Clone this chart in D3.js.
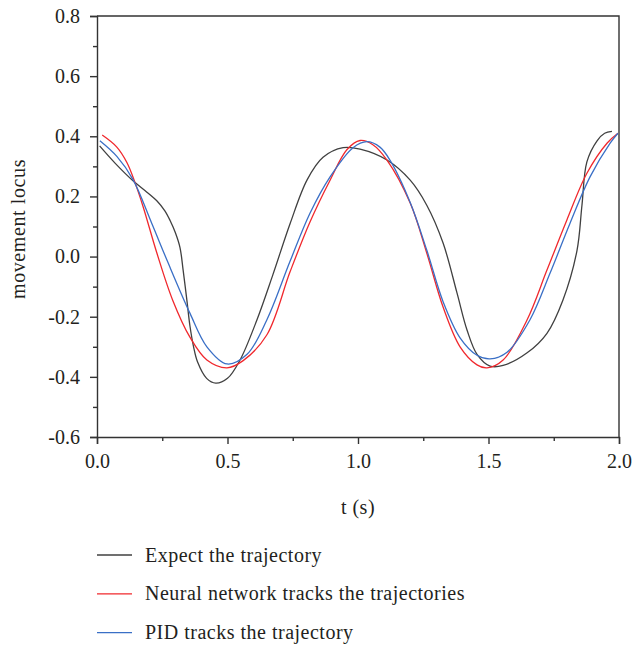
<!DOCTYPE html>
<html>
<head>
<meta charset="utf-8">
<script src="https://cdn.jsdelivr.net/npm/d3@7"></script>
<style>
  body { margin: 0; background: #fff; }
  svg text { font-family: "Liberation Serif", "DejaVu Serif", serif; fill: #231f20; }
</style>
</head>
<body>
<svg width="632" height="645"></svg>
<script>
// Series: time (s) and movement locus
const expectT = [0.01, 0.07, 0.138, 0.19, 0.23, 0.26, 0.28, 0.30, 0.318, 0.33, 0.345, 0.356, 0.37, 0.385, 0.42, 0.455, 0.50, 0.548, 0.613, 0.674, 0.74, 0.805, 0.866, 0.943, 1.008, 1.111, 1.2, 1.264, 1.326, 1.379, 1.418, 1.456, 1.506, 1.556, 1.648, 1.724, 1.785, 1.839, 1.858, 1.877, 1.916, 1.945, 1.973];
const expectV = [0.368, 0.31, 0.252, 0.215, 0.185, 0.152, 0.12, 0.08, 0.03, -0.045, -0.15, -0.23, -0.30, -0.35, -0.405, -0.421, -0.405, -0.344, -0.21, -0.06, 0.11, 0.255, 0.33, 0.362, 0.357, 0.321, 0.254, 0.17, 0.045, -0.12, -0.245, -0.325, -0.364, -0.362, -0.32, -0.255, -0.145, 0.02, 0.17, 0.315, 0.385, 0.41, 0.416];

const neuralT = [0.02, 0.076, 0.115, 0.146, 0.177, 0.23, 0.29, 0.356, 0.421, 0.498, 0.56, 0.651, 0.74, 0.816, 0.893, 0.958, 1.008, 1.057, 1.111, 1.2, 1.264, 1.326, 1.391, 1.456, 1.494, 1.556, 1.648, 1.724, 1.80, 1.877, 1.954, 1.996];
const neuralV = [0.404, 0.364, 0.312, 0.245, 0.165, 0.01, -0.145, -0.268, -0.344, -0.37, -0.346, -0.26, -0.05, 0.115, 0.254, 0.356, 0.386, 0.372, 0.321, 0.178, 0.01, -0.168, -0.30, -0.36, -0.37, -0.344, -0.21, -0.045, 0.121, 0.277, 0.377, 0.41];

const pidT = [0.011, 0.076, 0.138, 0.21, 0.272, 0.356, 0.421, 0.498, 0.575, 0.651, 0.74, 0.816, 0.893, 0.981, 1.034, 1.084, 1.123, 1.2, 1.264, 1.326, 1.391, 1.456, 1.506, 1.571, 1.659, 1.736, 1.812, 1.889, 1.966, 1.996];
const pidV = [0.385, 0.333, 0.256, 0.11, -0.02, -0.188, -0.30, -0.357, -0.325, -0.21, -0.015, 0.144, 0.265, 0.362, 0.382, 0.364, 0.32, 0.18, 0.02, -0.15, -0.27, -0.328, -0.34, -0.318, -0.21, -0.055, 0.11, 0.265, 0.377, 0.41];

const seriesNames = ["Expect the trajectory", "Neural network tracks the trajectories", "PID tracks the trajectory"];
const seriesColors = ["#404040", "#f0282d", "#3a6fc6"];

const xTicks = [0, 0.5, 1.0, 1.5, 2.0];
const xMinor = [0.25, 0.75, 1.25, 1.75];
const yTicks = [-0.6, -0.4, -0.2, 0.0, 0.2, 0.4, 0.6, 0.8];
const yMinor = [-0.5, -0.3, -0.1, 0.1, 0.3, 0.5, 0.7];

const svg = d3.select("svg");
const margin = { top: 16, right: 13, bottom: 208, left: 97 };
const width = 632 - margin.left - margin.right;
const height = 645 - margin.top - margin.bottom;

const x = d3.scaleLinear().domain([0, 2]).range([0, width]);
const y = d3.scaleLinear().domain([-0.6, 0.8]).range([height, 0]);

const g = svg.append("g").attr("transform", `translate(${margin.left},${margin.top})`);

const fmt = d => d.toFixed(1);

// frame top and right
g.append("path")
  .attr("d", `M0,0H${width}V${height}`)
  .attr("fill", "none").attr("stroke", "#333").attr("stroke-width", 1.4);

// axes
const xAxis = g.append("g").attr("transform", `translate(0,${height})`)
  .call(d3.axisBottom(x).tickValues(xTicks).tickFormat(fmt).tickSize(7).tickPadding(10));
const xMinorAxis = g.append("g").attr("transform", `translate(0,${height})`)
  .call(d3.axisBottom(x).tickValues(xMinor).tickFormat("").tickSize(4));
const yAxis = g.append("g")
  .call(d3.axisLeft(y).tickValues(yTicks).tickFormat(fmt).tickSize(7).tickPadding(10));
const yMinorAxis = g.append("g")
  .call(d3.axisLeft(y).tickValues(yMinor).tickFormat("").tickSize(4));

[xAxis, xMinorAxis, yAxis, yMinorAxis].forEach(a => {
  a.selectAll("path, line").attr("stroke", "#333").attr("stroke-width", 1.4);
  a.selectAll("text").attr("font-size", 20).attr("font-family", "Liberation Serif").attr("fill", "#231f20");
});
xMinorAxis.select(".domain").remove();
yMinorAxis.select(".domain").remove();

// axis titles
g.append("text")
  .attr("x", width / 2).attr("y", height + 77)
  .attr("text-anchor", "middle").attr("font-size", 20)
  .attr("letter-spacing", 0.5)
  .text("t (s)");
g.append("text")
  .attr("transform", `translate(${-72},${213}) rotate(-90)`)
  .attr("text-anchor", "middle").attr("font-size", 20)
  .attr("letter-spacing", 0.6)
  .text("movement locus");

// lines
const line = d3.line().x(d => x(d[0])).y(d => y(d[1])).curve(d3.curveCatmullRom.alpha(0.5));
const series = [
  d3.zip(expectT, expectV),
  d3.zip(neuralT, neuralV),
  d3.zip(pidT, pidV)
];
series.forEach((s, i) => {
  g.append("path")
    .datum(s)
    .attr("d", line)
    .attr("fill", "none")
    .attr("stroke", seriesColors[i])
    .attr("stroke-width", 1.3);
});

// legend
const legend = svg.append("g").attr("transform", "translate(97,555)");
seriesNames.forEach((name, i) => {
  const row = legend.append("g").attr("transform", `translate(0,${i * 38.8})`);
  row.append("line").attr("x1", 0).attr("x2", 35).attr("y1", 0).attr("y2", 0)
    .attr("stroke", seriesColors[i]).attr("stroke-width", 1.3);
  row.append("text").attr("x", 48).attr("y", 6.5).attr("font-size", 20)
    .attr("letter-spacing", 0.5).text(name);
});
</script>
</body>
</html>
